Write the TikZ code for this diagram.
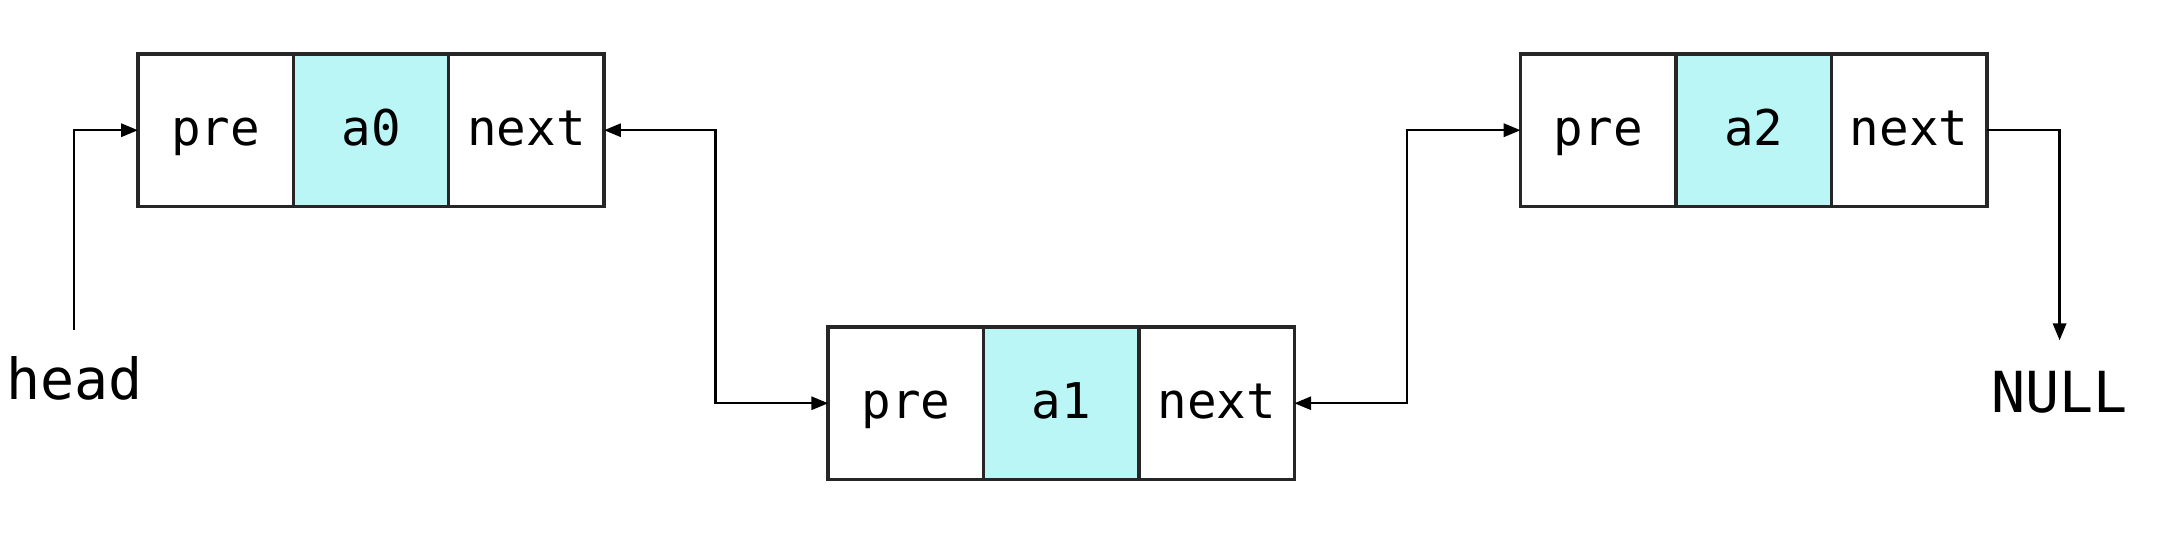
\documentclass[tikz,border=0pt]{standalone}
\usepackage{fontspec}
\setmonofont{DejaVu Sans Mono}
\usetikzlibrary{arrows.meta}
\definecolor{cellcyan}{RGB}{187,246,246}
\tikzset{
  cell/.style={draw=black!85, line width=0.7pt, rectangle, minimum width=1.11cm, minimum height=1.09cm,
    inner sep=0pt, outer sep=0pt, text height=1.9ex, text depth=0.45ex,
    font=\ttfamily\fontsize{10pt}{12pt}\selectfont},
  datacell/.style={cell, fill=cellcyan},
  conn/.style={line width=0.45pt, black, -{Triangle[length=0.12cm,width=0.095cm]}},
  bconn/.style={line width=0.45pt, black, {Triangle[length=0.12cm,width=0.095cm]}-{Triangle[length=0.12cm,width=0.095cm]}},
  lbl/.style={font=\ttfamily\fontsize{11.5pt}{14pt}\selectfont, inner sep=0pt}
}
\begin{document}
\begin{tikzpicture}
\useasboundingbox (0,0) rectangle (15.52,3.80);
% node 0
\node[cell] (b0p) at (1.54,2.87) {pre};
\node[datacell] (b0d) at (2.65,2.87) {a0};
\node[cell] (b0n) at (3.76,2.87) {next};
% node 1
\node[cell] (b1p) at (6.47,0.92) {pre};
\node[datacell] (b1d) at (7.58,0.92) {a1};
\node[cell] (b1n) at (8.69,0.92) {next};
% node 2
\node[cell] (b2p) at (11.415,2.87) {pre};
\node[datacell] (b2d) at (12.525,2.87) {a2};
\node[cell] (b2n) at (13.635,2.87) {next};
% labels
\node[lbl] (head) at (0.53,1.10) {head};
\node[lbl] (null) at (14.71,1.00) {NULL};
\coordinate (hd) at (0.53,1.44);
\coordinate (j1) at (5.11,2.87);
\coordinate (j2) at (10.05,2.87);
\coordinate (na) at (14.71,1.37);
% connectors
\draw[conn] (hd) |- (b0p.west);
\draw[bconn] (b0n.east) -- (j1) |- (b1p.west);
\draw[bconn] (b1n.east) -| (j2) -- (b2p.west);
\draw[conn] (b2n.east) -| (na);
\end{tikzpicture}
\end{document}
